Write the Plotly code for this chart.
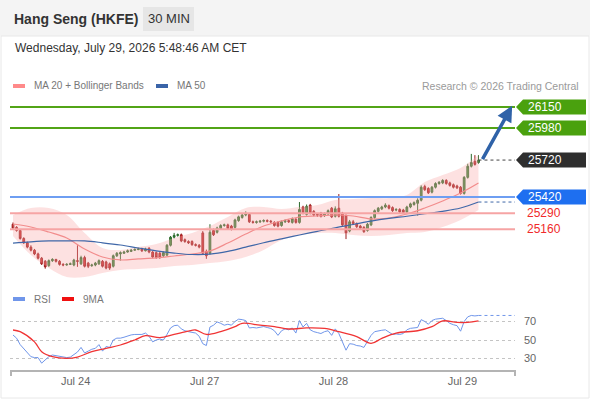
import plotly.graph_objects as go

# ---------------- data ----------------
# 30 min candles, Hang Seng futures
opens = [25200, 25175, 25150, 25085, 25050, 25015, 24990, 24960, 24925, 24900,
         24865, 24905, 24915, 24900, 24875, 24870, 24875, 24870, 24905, 24880,
         24930, 24885, 24865, 24870, 24880, 24900, 24895, 24880, 24860, 24945,
         24960, 24965, 24975, 24980, 24990, 24995, 25000, 24985, 25005, 24975,
         24970, 24965, 24945, 24950, 25030, 25095, 25110, 25115, 25075, 25060,
         25060, 25035, 25030, 25130, 24980, 24965, 25150, 25135, 25165, 25190,
         25195, 25185, 25175, 25230, 25255, 25275, 25280, 25220, 25215, 25220,
         25225, 25230, 25225, 25215, 25215, 25190, 25220, 25230, 25215, 25240,
         25215, 25340, 25280, 25355, 25305, 25280, 25290, 25270, 25285, 25330,
         25265, 25330, 25290, 25270, 25145, 25220, 25205, 25185, 25175, 25150,
         25195, 25255, 25305, 25325, 25340, 25350, 25335, 25315, 25320, 25315,
         25300, 25340, 25360, 25370, 25395, 25505, 25490, 25460, 25500, 25530,
         25535, 25555, 25535, 25520, 25510, 25500, 25450, 25580, 25670, 25710,
         25700]
highs = [25215, 25185, 25160, 25095, 25060, 25030, 25000, 24970, 24935, 24910,
         24915, 24925, 24920, 24910, 24885, 24885, 24890, 24920, 25030, 24945,
         24945, 24895, 24880, 24895, 24915, 24910, 24905, 24890, 24955, 24975,
         24980, 24985, 24995, 25000, 25005, 25010, 25010, 25010, 25015, 24985,
         24980, 24975, 24980, 25040, 25105, 25130, 25125, 25125, 25085, 25070,
         25070, 25045, 25040, 25145, 24995, 25200, 25165, 25180, 25200, 25205,
         25205, 25195, 25245, 25270, 25290, 25305, 25290, 25230, 25230, 25235,
         25240, 25240, 25235, 25225, 25225, 25230, 25240, 25240, 25255, 25250,
         25380, 25350, 25360, 25365, 25315, 25290, 25300, 25295, 25320, 25340,
         25345, 25445, 25300, 25280, 25235, 25235, 25215, 25195, 25185, 25210,
         25265, 25320, 25340, 25350, 25370, 25360, 25345, 25330, 25330, 25325,
         25350, 25375, 25385, 25410, 25515, 25520, 25500, 25510, 25540, 25550,
         25565, 25565, 25545, 25530, 25520, 25510, 25590, 25690, 25770, 25760,
         25760]
lows = [25160, 25140, 25075, 25040, 25005, 24980, 24950, 24915, 24870, 24840,
        24855, 24895, 24890, 24865, 24860, 24865, 24870, 24860, 24855, 24870,
        24850, 24845, 24855, 24860, 24870, 24850, 24835, 24830, 24850, 24935,
        24905, 24960, 24970, 24975, 24985, 24990, 24975, 24980, 24965, 24925,
        24920, 24920, 24935, 24945, 25020, 25085, 25100, 25055, 25050, 25040,
        25025, 25020, 25005, 24955, 24920, 24955, 25105, 25125, 25155, 25180,
        25155, 25150, 25165, 25220, 25245, 25265, 25210, 25205, 25205, 25210,
        25215, 25215, 25210, 25180, 25175, 25180, 25210, 25210, 25205, 25205,
        25205, 25280, 25270, 25280, 25265, 25260, 25255, 25260, 25275, 25250,
        25255, 25255, 25185, 25080, 25135, 25195, 25170, 25160, 25130, 25140,
        25185, 25245, 25295, 25315, 25330, 25320, 25300, 25305, 25290, 25285,
        25290, 25330, 25350, 25270, 25385, 25470, 25445, 25450, 25490, 25520,
        25525, 25520, 25505, 25490, 25485, 25440, 25440, 25570, 25660, 25675,
        25690]
closes = [25170, 25150, 25085, 25050, 25015, 24990, 24960, 24925, 24880, 24855,
          24905, 24915, 24900, 24875, 24870, 24875, 24880, 24910, 24900, 24930,
          24860, 24860, 24870, 24885, 24905, 24860, 24845, 24845, 24945, 24965,
          24970, 24975, 24985, 24990, 24995, 25000, 24985, 25000, 24975, 24935,
          24930, 24930, 24970, 25030, 25095, 25110, 25115, 25065, 25060, 25050,
          25035, 25030, 25015, 24965, 24945, 25135, 25115, 25170, 25190, 25195,
          25165, 25160, 25235, 25260, 25275, 25285, 25220, 25215, 25220, 25225,
          25230, 25225, 25220, 25190, 25185, 25220, 25230, 25220, 25245, 25215,
          25320, 25290, 25345, 25290, 25275, 25275, 25265, 25285, 25310, 25260,
          25325, 25265, 25195, 25130, 25220, 25205, 25180, 25170, 25140, 25200,
          25255, 25310, 25330, 25340, 25355, 25330, 25310, 25320, 25300, 25295,
          25340, 25365, 25375, 25395, 25500, 25480, 25455, 25500, 25530, 25540,
          25555, 25530, 25515, 25500, 25495, 25450, 25580, 25670, 25700, 25685,
          25720]
bars = list(range(len(closes)))

# indicators, sampled every 5 bars
ind_bars = list(range(0, 131, 5))
bb_upper = [25275, 25332, 25332, 25275, 25129, 25008, 24992, 25016, 25040, 25089,
            25129, 25186, 25259, 25332, 25340, 25324, 25340, 25356, 25397, 25405,
            25413, 25413, 25437, 25542, 25599, 25656, 25761]
ma20 = [25202, 25178, 25137, 25089, 25000, 24935, 24911, 24919, 24927, 24943,
        24959, 24984, 25048, 25121, 25186, 25227, 25259, 25267, 25275, 25267,
        25243, 25251, 25283, 25332, 25389, 25453, 25534]
bb_lower = [25105, 24951, 24846, 24773, 24773, 24805, 24830, 24838, 24846, 24862,
            24870, 24886, 24903, 24935, 24992, 25073, 25113, 25129, 25129, 25113,
            25105, 25113, 25129, 25137, 25178, 25235, 25316]
ma50 = [25048, 25058, 25065, 25066, 25065, 25050, 25032, 25008, 24985, 24967,
        24955, 24958, 24980, 25015, 25050, 25082, 25113, 25143, 25172, 25198,
        25225, 25247, 25265, 25285, 25305, 25332, 25380]

rsi = [55.4, 52, 45, 41, 37, 32, 31, 31, 25, 29,
       32, 33.8, 33, 32, 31, 31, 31.5, 34, 37, 42,
       36, 38, 40, 41, 45, 38, 43, 42, 50, 52,
       52, 53, 54.5, 55.5, 56, 56, 56, 57.5, 54, 48,
       50, 51, 50, 56, 63, 65.5, 66, 62, 60, 59,
       58, 57.5, 54, 46, 44, 64, 66, 69.5, 68, 66,
       67, 66, 70, 72.5, 72, 71, 63, 63.5, 63, 64,
       64.5, 63.5, 62.5, 60, 55, 60, 62, 61, 63, 57.5,
       71, 64, 68, 61, 59, 58, 57, 59, 60, 55,
       62, 57, 48, 39, 46, 45.5, 44, 43.5, 42, 48,
       55, 59, 60, 60.5, 61, 58, 56, 56.5, 56, 57,
       61, 62.6, 63, 63.5, 72, 70, 67, 71, 72.5, 73,
       73.5, 71, 68, 66.5, 65.5, 59.5, 70, 75, 76.5, 76,
       76.5]
rsi_ma_bars = [0, 2, 6, 8, 11, 15, 18, 22, 26, 30, 34, 37, 41, 45, 49, 51, 54, 58,
               62, 64, 69, 73, 77, 82, 87, 91, 96, 100, 103, 107, 113, 117, 120,
               124, 127, 130]
rsi_ma = [60.8, 59, 48, 37.4, 32, 30.2, 31.6, 37.4, 41, 44.6, 50, 54.7, 52.5, 56,
          59.7, 60.8, 56, 59, 64.4, 68, 66, 64.4, 61.9, 63, 62.5, 59, 53.6, 46.4,
          51.8, 57.5, 60, 64.4, 70.6, 69, 69, 70.6]

# key levels (resistance / last / pivot / support)
res_levels = [26150, 25980]
last_price = 25720
pivot = 25420
sup_levels = [25290, 25160]

day_ticks = [17.5, 53.5, 89.5, 125.5]
day_labels = ["Jul 24", "Jul 27", "Jul 28", "Jul 29"]
rsi_ticks = [30, 50, 70]

# ---------------- layout helpers ----------------
W, H = 590, 400
X_RANGE = [-0.84, 140.2]
Y_RANGE = [24708, 26239]
RSI_RANGE = [17.6, 87.8]
MAIN_TOP, MAIN_BOT = 96, 285
FONT = "Liberation Sans, Arial, sans-serif"


def px(x):
    return x / W


def py(y):
    return 1 - y / H


# half height of a right side label box, in price units
half = 7.5 * (Y_RANGE[1] - Y_RANGE[0]) / (MAIN_BOT - MAIN_TOP)

fig = go.Figure()

# bollinger band
fig.add_trace(go.Scatter(x=ind_bars, y=bb_upper, mode="lines", line=dict(width=0, shape="spline"),
                         hoverinfo="skip"))
fig.add_trace(go.Scatter(x=ind_bars, y=bb_lower, mode="lines", line=dict(width=0, shape="spline"),
                         fill="tonexty", fillcolor="rgba(250,170,170,0.35)", hoverinfo="skip"))
fig.add_trace(go.Scatter(x=ind_bars, y=ma20, mode="lines",
                         line=dict(color="#f28c8c", width=1.2, shape="spline")))
fig.add_trace(go.Scatter(x=ind_bars, y=ma50, mode="lines",
                         line=dict(color="#3f67a8", width=1.2, shape="spline")))
fig.add_trace(go.Scatter(x=[ind_bars[-1], X_RANGE[1]], y=[ma50[-1], ma50[-1]], mode="lines",
                         line=dict(color="#3f67a8", width=1, dash="dot")))
fig.add_trace(go.Scatter(x=[bars[-1], X_RANGE[1]], y=[last_price, last_price], mode="lines",
                         line=dict(color="#444", width=1, dash="dot")))

fig.add_trace(go.Candlestick(
    x=bars, open=opens, high=highs, low=lows, close=closes,
    increasing=dict(line=dict(color="#2b6a2b", width=1), fillcolor="#3c963c"),
    decreasing=dict(line=dict(color="#9a1c1c", width=1), fillcolor="#e02828"),
))

# RSI panel
fig.add_trace(go.Scatter(x=bars, y=rsi, mode="lines", xaxis="x2", yaxis="y2",
                         line=dict(color="#7096ea", width=1)))
fig.add_trace(go.Scatter(x=[bars[-1], X_RANGE[1]], y=[rsi[-1], rsi[-1]], mode="lines",
                         xaxis="x2", yaxis="y2", line=dict(color="#7096ea", width=1, dash="dot")))
fig.add_trace(go.Scatter(x=rsi_ma_bars, y=rsi_ma, mode="lines", xaxis="x2", yaxis="y2",
                         line=dict(color="#f03434", width=1.3, shape="spline")))

shapes = []
annotations = []

# header band + badge
shapes.append(dict(type="rect", xref="paper", yref="paper", x0=0, x1=1, y0=py(36), y1=1,
                   fillcolor="#f4f4f4", line=dict(width=0), layer="below"))
shapes.append(dict(type="rect", xref="paper", yref="paper", x0=px(143), x1=px(194),
                   y0=py(31), y1=py(7), fillcolor="#e6e6e6", line=dict(width=0), layer="below"))
shapes.append(dict(type="rect", xref="paper", yref="paper", x0=px(1), x1=px(589),
                   y0=py(398), y1=py(36), line=dict(color="#e8e8e8", width=1), layer="below"))

annotations.append(dict(text="<b>Hang Seng (HKFE)</b>", x=px(12), y=py(19), xref="paper", yref="paper",
                        xanchor="left", yanchor="middle", showarrow=False,
                        font=dict(size=14, color="#333")))
annotations.append(dict(text="30 MIN", x=px(168.5), y=py(19), xref="paper", yref="paper",
                        xanchor="center", yanchor="middle", showarrow=False,
                        font=dict(size=13, color="#333")))
annotations.append(dict(text="Wednesday, July 29, 2026 5:48:46 AM CET", x=px(13), y=py(48),
                        xref="paper", yref="paper", xanchor="left", yanchor="middle",
                        showarrow=False, font=dict(size=12, color="#333")))

# legends
legend_items = [(13, 86, "#ff8a8a", "MA 20 + Bollinger Bands"), (156, 86, "#3a64a8", "MA 50"),
                (13, 299, "#7096ea", "RSI"), (62, 299, "#f01010", "9MA")]
for lx, ly, col, name in legend_items:
    shapes.append(dict(type="rect", xref="paper", yref="paper", x0=px(lx), x1=px(lx + 12),
                       y0=py(ly + 2), y1=py(ly - 2), fillcolor=col, line=dict(width=0)))
    annotations.append(dict(text=name, x=px(lx + 19), y=py(ly), xref="paper", yref="paper",
                            xanchor="left", yanchor="middle", showarrow=False,
                            font=dict(size=10, color="#777")))
annotations.append(dict(text="Research © 2026 Trading Central", x=px(581), y=py(86),
                        xref="paper", yref="paper", xanchor="right", yanchor="middle",
                        showarrow=False, font=dict(size=10.5, color="#9a9a9a")))

# horizontal levels
for lv in res_levels:
    shapes.append(dict(type="line", xref="x domain", yref="y", x0=0, x1=1, y0=lv, y1=lv,
                       line=dict(color="#52a416", width=2)))
shapes.append(dict(type="line", xref="x domain", yref="y", x0=0, x1=1, y0=pivot, y1=pivot,
                   line=dict(color="#6e9ef2", width=2)))
for lv in sup_levels:
    shapes.append(dict(type="line", xref="x domain", yref="y", x0=0, x1=1, y0=lv, y1=lv,
                       line=dict(color="#f6a4a4", width=2)))

# right side price tags
tags = [(res_levels[0], "#4aa10e"), (res_levels[1], "#4aa10e"), (last_price, "#2e2e2e"), (pivot, "#1e6ff0")]
for lv, col in tags:
    path = (f"M {px(516)},{lv} L {px(523)},{lv + half} L {px(586)},{lv + half} "
            f"L {px(586)},{lv - half} L {px(523)},{lv - half} Z")
    shapes.append(dict(type="path", xref="paper", yref="y", path=path,
                       fillcolor=col, line=dict(width=0)))
    annotations.append(dict(text=str(lv), x=px(526), y=lv, xref="paper", yref="y",
                            xanchor="left", yanchor="middle", showarrow=False,
                            font=dict(size=12, color="white")))
for lv in sup_levels:
    annotations.append(dict(text=str(lv), x=px(525), y=lv, xref="paper", yref="y",
                            xanchor="left", yanchor="middle", showarrow=False,
                            font=dict(size=12, color="#f02a2a")))

# target arrow
annotations.append(dict(text="", x=139.4, y=res_levels[0] + 10, xref="x", yref="y",
                        ax=130.9, ay=last_price - 5, axref="x", ayref="y",
                        showarrow=True, arrowhead=2, arrowsize=0.9, arrowwidth=3.5,
                        arrowcolor="#2f62a8", standoff=0))

# bottom axis end ticks
for tx in (11, 515):
    shapes.append(dict(type="line", xref="paper", yref="paper", x0=px(tx), x1=px(tx),
                       y0=py(370), y1=py(376), line=dict(color="#b4b4b4", width=2)))

fig.update_layout(
    width=W, height=H,
    margin=dict(l=0, r=0, t=0, b=0),
    paper_bgcolor="white", plot_bgcolor="rgba(0,0,0,0)",
    showlegend=False,
    font=dict(family=FONT),
    shapes=shapes, annotations=annotations,
    xaxis=dict(domain=[px(10), px(515)], range=X_RANGE, visible=False, anchor="y",
               rangeslider=dict(visible=False)),
    yaxis=dict(domain=[py(MAIN_BOT), py(MAIN_TOP)], range=Y_RANGE, visible=False, anchor="x"),
    xaxis2=dict(domain=[px(10), px(515)], range=X_RANGE, anchor="y2",
                tickvals=day_ticks, ticktext=day_labels, ticks="",
                showline=True, linecolor="#b4b4b4", linewidth=2, showgrid=False, zeroline=False,
                tickfont=dict(size=11, color="#666")),
    yaxis2=dict(domain=[py(370), py(305)], range=RSI_RANGE, anchor="x2", side="right",
                tickvals=rsi_ticks, ticks="", showgrid=True, gridcolor="#c4c4c4",
                griddash="dot", zeroline=False, showline=False, ticklabelstandoff=8,
                tickfont=dict(size=11, color="#666")),
)

# page body has a default 8px margin; drop it so the figure sits at the window corner
fig.write_html("out.html", config={"displayModeBar": False},
               post_script="document.body.style.margin='0';")
